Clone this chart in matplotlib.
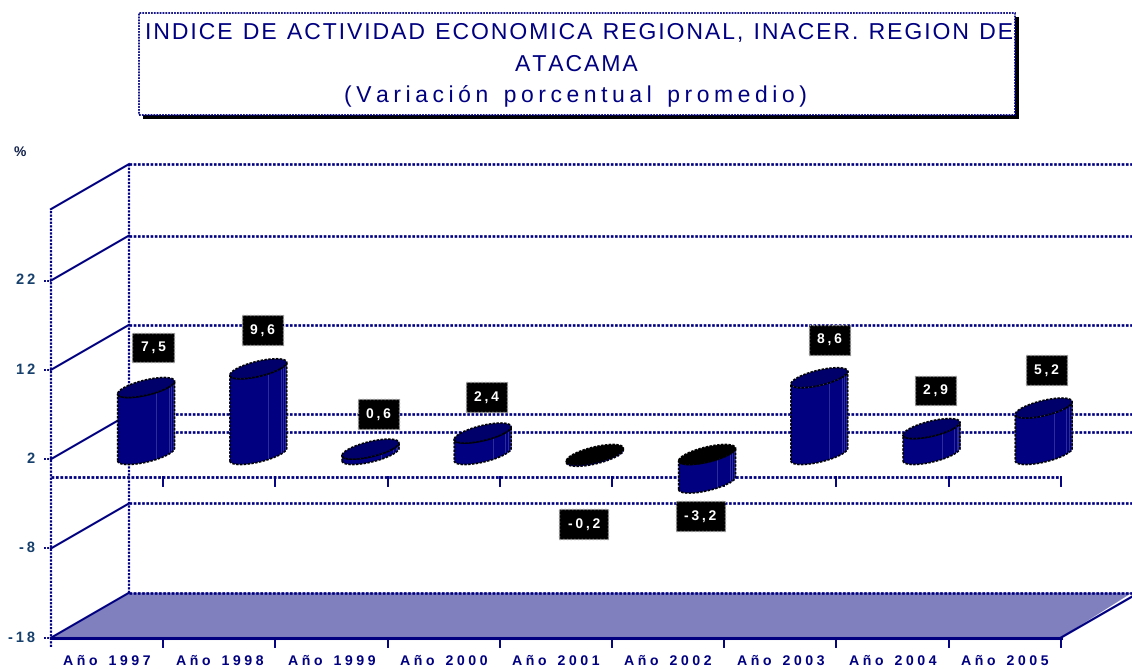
import numpy as np
import matplotlib
matplotlib.use("Agg")
import matplotlib.pyplot as plt

plt.rcParams['font.family'] = ['Liberation Sans', 'DejaVu Sans']
plt.rcParams['text.hinting'] = 'none'

years = ["Año 1997", "Año 1998", "Año 1999", "Año 2000", "Año 2001",
         "Año 2002", "Año 2003", "Año 2004", "Año 2005"]
values = [7.5, 9.6, 0.6, 2.4, -0.2, -3.2, 8.6, 2.9, 5.2]
value_labels = ["7,5", "9,6", "0,6", "2,4", "-0,2", "-3,2", "8,6", "2,9", "5,2"]
y_ticks = [-18, -8, 2, 12, 22]
y_top = 30
title_lines = ["INDICE DE ACTIVIDAD ECONOMICA REGIONAL, INACER. REGION DE",
               "ATACAMA", "(Variación porcentual promedio)"]

# label placement relative to the top of each bar, in pixels
label_dx = [7, 4, 8, 4, -11, -7, 10, 4, 3]
label_dy = [40, 39, 35, 36, -68, -33, 38, 38, 38]

NAVY = "#000080"
TICK = "#17406d"
W, H = 1132, 669
X0, PX_X = 51, 112.2  # pixel of category edge 0, pixels per category
Y0, PX_Y = 477, 8.93  # pixel of value 0, pixels per value unit
DX, DY = 78 / PX_X, 45 / PX_Y  # depth of the 3d box
DOT = (0, (1, 0.6))


def spaced(s, sep):
    return sep.join(s)


fig = plt.figure(figsize=(W / 100, H / 100), dpi=100)
ax = fig.add_axes([0, 0, 1, 1])
ax.set_xlim(-X0 / PX_X, (W - X0) / PX_X)
ax.set_ylim((Y0 - H) / PX_Y, Y0 / PX_Y)
ax.axis("off")
n = len(years)
xmax = (W - X0) / PX_X

# floor
ax.fill([0, DX, xmax, n], [y_ticks[0], y_ticks[0] + DY, y_ticks[0] + DY, y_ticks[0]],
        color="#8080bf", zorder=1, lw=0)
ax.plot([n, xmax], [y_ticks[0], y_ticks[0] + (xmax - n) / DX * DY], color=NAVY, lw=1.6, zorder=2)
ax.plot([0, n], [y_ticks[0]] * 2, color=NAVY, lw=2.2, zorder=2)

# back wall and side wall
for v in y_ticks + [y_top]:
    ax.plot([0, DX], [v, v + DY], color=NAVY, lw=1.5, zorder=2)
    ax.plot([DX, xmax], [v + DY, v + DY], color=NAVY, lw=1.9, ls=DOT, zorder=2)
    if v != y_top:
        ax.plot([-7 / PX_X, 0], [v, v], color=NAVY, lw=1.4, ls=DOT, zorder=2)
ax.plot([DX, xmax], [DY, DY], color=NAVY, lw=1.9, ls=DOT, zorder=2)
ax.plot([0, 0], [y_ticks[0] - 9 / PX_Y, y_top], color=NAVY, lw=1.6, ls=DOT, zorder=2)
ax.plot([DX, DX], [y_ticks[0] + DY, y_top + DY], color=NAVY, lw=1.6, ls=DOT, zorder=2)

# zero line and category ticks
ax.plot([0, n], [0, 0], color=NAVY, lw=2, ls=DOT, zorder=2)
for i in range(1, n + 1):
    ax.plot([i, i], [0, -9 / PX_Y], color=NAVY, lw=1.4, zorder=2)
    ax.plot([i, i], [y_ticks[0], y_ticks[0] - 9 / PX_Y], color=NAVY, lw=1.4, zorder=2)

# cylinders
wx, ex, ey = 22 / PX_X, 18 / PX_X, 10 / PX_Y
t0 = np.arctan2(-ex, -wx)  # left silhouette point, going round the lower side
t = np.linspace(t0, t0 + np.pi, 40)
circ = np.linspace(0, 2 * np.pi, 80)
base = DY / 2


def ring(tt, cx, cy):
    return cx + wx * np.cos(tt) + ex * np.sin(tt), cy + ey * np.sin(tt)


for i, v in enumerate(values):
    cx = i + 0.5 + DX / 2
    top, bottom = base + v, base
    if v < 0:
        top, bottom = base, base + v
    bx, by = ring(t, cx, bottom)
    tx, ty = ring(t, cx, top)
    ax.fill(np.r_[bx, tx[::-1]], np.r_[by, ty[::-1]], color=NAVY, lw=0, zorder=3)
    for k in [24, 31, 33, 35, 37]:
        ax.plot([bx[k], tx[k]], [by[k], ty[k]], color="#4040a8", lw=0.5, zorder=3)
    ax.plot(np.r_[bx, tx[::-1], bx[0]], np.r_[by, ty[::-1], by[0]], color="black",
            lw=1.2, ls=(0, (1.5, 0.8)), zorder=4)
    ex_, ey_ = ring(circ, cx, top)
    face = "black" if v < 0 else "#00006a"
    ax.fill(ex_, ey_, color=face, lw=0, zorder=4)
    ax.plot(ex_, ey_, color="black", lw=1.2, ls=(0, (1.5, 0.8)), zorder=5)
    ax.annotate(spaced(value_labels[i], "\u2009"), xy=(cx, base + v), xytext=(label_dx[i], label_dy[i]),
                textcoords="offset pixels", ha="center", va="center", color="white",
                fontsize=10, fontweight="bold", zorder=6,
                bbox=dict(boxstyle="square,pad=0.6", fc="black", ec="#999999", lw=1, ls=":"))

# axis text
for v in y_ticks:
    ax.text(-16 / PX_X, v, spaced(str(v), "\u2009"), ha="right", va="center",
            color=TICK, fontsize=10.5, fontweight="bold")
ax.text(-31 / PX_X, (Y0 - 152) / PX_Y, "%", ha="center", va="center", color="#10204a",
        fontsize=10, fontweight="bold")
for i, name in enumerate(years):
    ax.text(i + 0.5, (Y0 - 661) / PX_Y, spaced(name, "\u2005"), ha="center", va="center",
            color=NAVY, fontsize=10.2, fontweight="bold")

# title box with shadow, drawn in figure pixels
shadow = plt.Rectangle((143, H - 119), 876, 102, fc="black", ec="none", transform=None, zorder=7)
frame = plt.Rectangle((139, H - 115), 876, 102, fc="white", ec=NAVY, lw=1.3, ls=DOT, transform=None, zorder=8)
fig.add_artist(shadow)
fig.add_artist(frame)
for line, px, py, sep, size in zip(title_lines, [579, 576, 575], [33, 65, 96],
                                   ["\u200a", "\u200a", "\u2009"], [16.6, 16.6, 16.5]):
    fig.text(px / W, 1 - py / H, spaced(line, sep), ha="center", va="center",
             color=NAVY, fontsize=size, zorder=9)

fig.savefig("out.png", dpi=100)
